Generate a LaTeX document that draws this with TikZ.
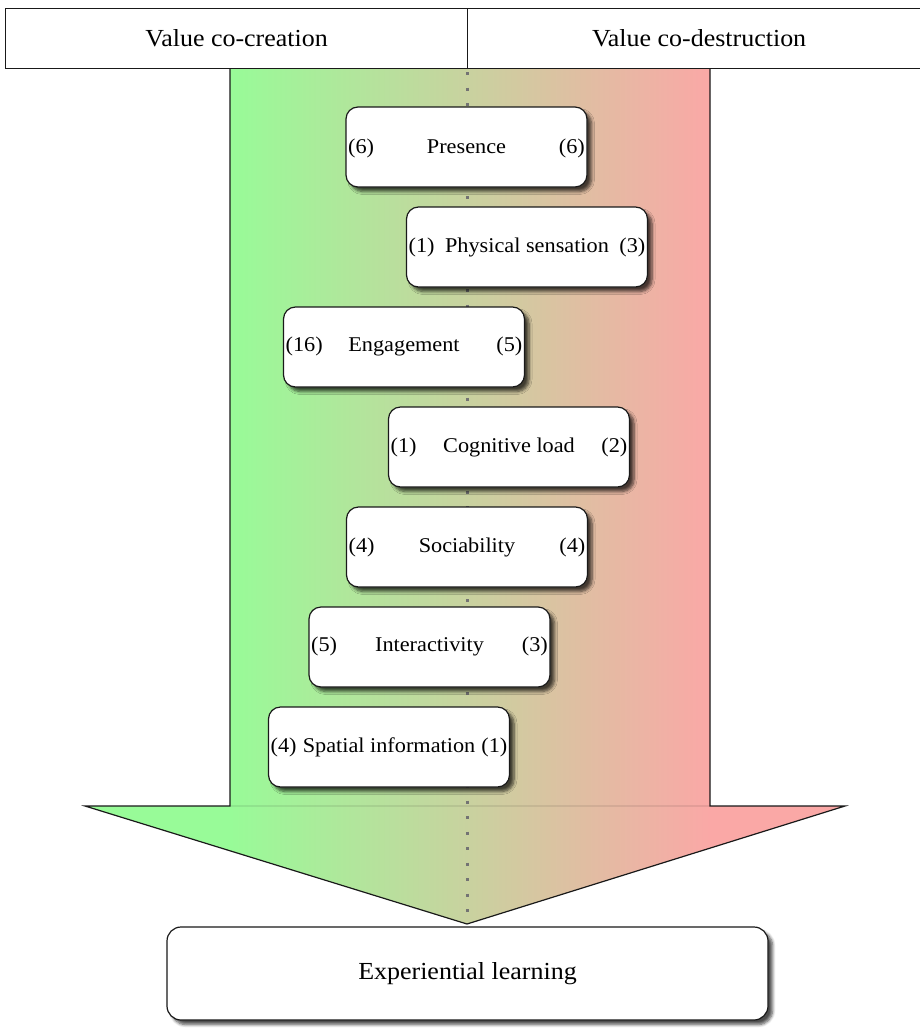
\documentclass[tikz,border=0pt]{standalone}
\usepackage{fontspec}
\setmainfont[FakeStretch=1.06]{Liberation Serif}
\usetikzlibrary{shadows.blur}
\definecolor{vgreen}{RGB}{152,251,152}
\definecolor{vtan}{RGB}{212,204,160}
\definecolor{vpink}{RGB}{250,168,166}
\tikzset{
  outline/.style={draw=black!90, line width=1.2pt},
  boxfont/.style={font=\fontsize{21}{25}\selectfont},
  headfont/.style={font=\fontsize{24.5}{29}\selectfont},
  factor/.style={outline, fill=white, rounded corners=12pt,
    minimum width=241pt, minimum height=80pt, inner sep=0pt,
    blur shadow={shadow xshift=4.5pt, shadow yshift=-4.5pt,
      shadow blur steps=6, shadow blur radius=3pt, shadow opacity=70}},
  count/.style={boxfont, inner sep=0pt},
  headcell/.style={outline, fill=white, headfont, anchor=north west,
    minimum height=60pt, inner sep=0pt},
  axis/.style={black!55, line width=3pt, dash pattern=on 3pt off 12.5pt},
}
% one factor box with its two counts at the edges
\newcommand\factorrow[6]{%
  \node[factor, boxfont] (#1) at (#2,#3) {#5};
  \node[count, anchor=base west] (#1-co) at ([xshift=2.5pt]#1.base west) {#4};
  \node[count, anchor=base east] (#1-cd) at ([xshift=-2.5pt]#1.base east) {#6};
}
\begin{document}
\begin{tikzpicture}[x=1pt,y=-1pt]
\useasboundingbox (0,0) rectangle (919,1028);

% coloured arrow body, green to red
\begin{scope}
  \clip (230,68) -- (710,68) -- (710,806) -- (845,806) -- (467,924)
        -- (85,806) -- (230,806) -- cycle;
  \fill[vgreen] (80,60) rectangle (231,930);
  \fill[vpink] (709,60) rectangle (850,930);
  \shade[left color=vgreen, middle color=vtan, right color=vpink]
        (230,60) rectangle (710,930);
\end{scope}
\draw[black, opacity=0.08, line width=1.2pt] (230,806) -- (710,806);
\draw[outline, line join=miter]
  (230,68) -- (230,806) -- (85,806) -- (467,924) -- (845,806) -- (710,806) -- (710,68);

% dotted axis down the middle
\coordinate (axtop) at (467,72);
\coordinate (axbot) at (467,920);
\draw[axis] (axtop) -- (axbot);

% header
\node[headcell, minimum width=462pt] (cocre) at (5,8) {Value co-creation};
\node[headcell, minimum width=463pt] (codes) at (467,8) {Value co-destruction};

% factors
\factorrow{pres}{466.5}{147}{(6)}{Presence}{(6)}
\factorrow{phys}{527}{247}{(1)}{Physical sensation}{(3)}
\factorrow{enga}{404}{347}{(16)}{Engagement}{(5)}
\factorrow{cogn}{509}{447}{(1)}{Cognitive load}{(2)}
\factorrow{soci}{467}{547}{(4)}{Sociability}{(4)}
\factorrow{inte}{429.5}{647}{(5)}{Interactivity}{(3)}
\factorrow{spat}{389}{747}{(4)}{Spatial information}{(1)}

% outcome
\node[factor, headfont, minimum width=601pt, minimum height=93pt, rounded corners=14pt]
  (expl) at (467.5,973.5) {Experiential learning};
\end{tikzpicture}
\end{document}
